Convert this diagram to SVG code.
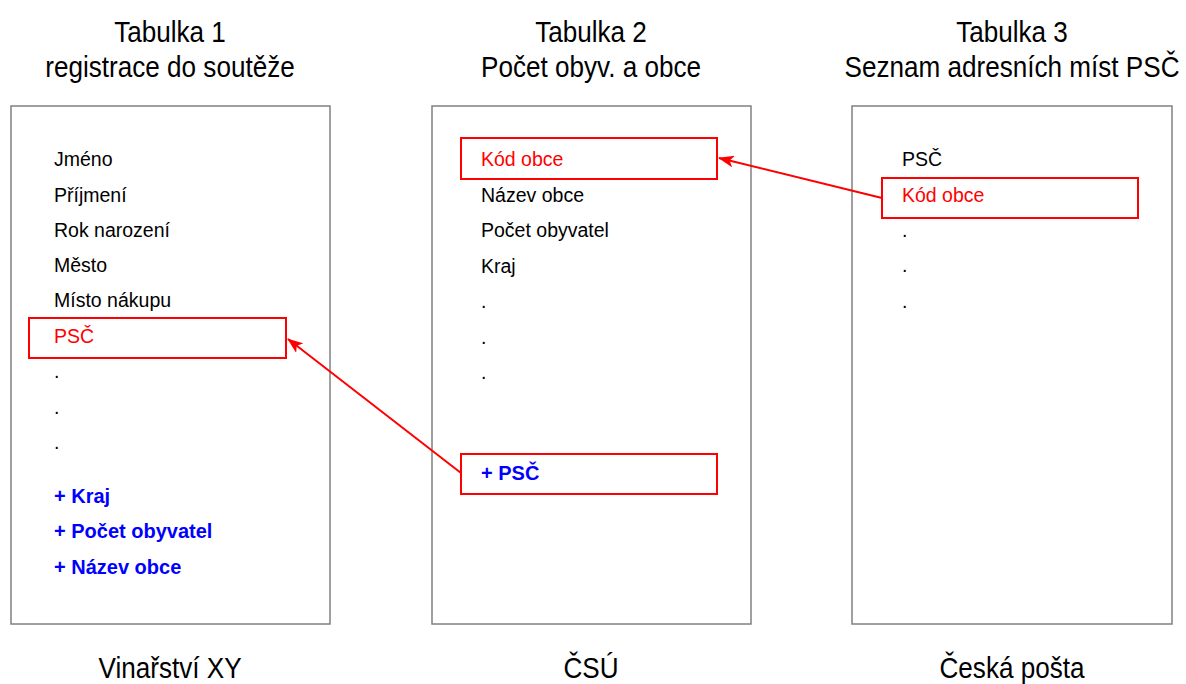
<svg xmlns="http://www.w3.org/2000/svg" width="1186" height="684" viewBox="0 0 1186 684">
<style>
.tbl{fill:#fff;stroke:#808080;stroke-width:1.5}
.hl{fill:none;stroke:#ff0000;stroke-width:2}
.title{font-family:"Liberation Sans",Arial,sans-serif;font-size:29px;fill:#000;text-anchor:middle}
.item{font-family:"Liberation Sans",Arial,sans-serif;font-size:19.5px;fill:#000}
.red{fill:#ff0000}
.blue{font-weight:bold;font-size:20px;fill:#0000ff}
.conn{fill:none;stroke:#ff0000;stroke-width:2}
</style>
<defs>
<marker id="arr" viewBox="0 0 16 12" refX="15" refY="6" markerWidth="16" markerHeight="12" markerUnits="userSpaceOnUse" orient="auto">
<path d="M0,0 L16,6 L0,12 L4,6 Z" fill="#ff0000"/>
</marker>
</defs>
<rect width="1186" height="684" fill="#fff"/>
<g id="table1">
<text class="title" transform="translate(170,42) scale(0.9,1)">Tabulka 1</text>
<text class="title" transform="translate(170,77) scale(0.9,1)">registrace do soutěže</text>
<rect class="tbl" x="11" y="106" width="319" height="518"/>
<text class="item" x="54" y="166">Jméno</text>
<text class="item" x="54" y="202">Příjmení</text>
<text class="item" x="54" y="237">Rok narození</text>
<text class="item" x="54" y="272">Město</text>
<text class="item" x="54" y="307">Místo nákupu</text>
<rect class="hl" x="29" y="318" width="257" height="40"/>
<text class="item red" x="54" y="343">PSČ</text>
<text class="item" x="54" y="378">.</text>
<text class="item" x="54" y="414">.</text>
<text class="item" x="54" y="449">.</text>
<text class="item blue" x="54" y="503">+ Kraj</text>
<text class="item blue" x="54" y="538">+ Počet obyvatel</text>
<text class="item blue" x="54" y="574">+ Název obce</text>
<text class="title" transform="translate(170,678) scale(0.9,1)">Vinařství XY</text>
</g>
<g id="table2">
<text class="title" transform="translate(591,42) scale(0.9,1)">Tabulka 2</text>
<text class="title" transform="translate(591,77) scale(0.9,1)">Počet obyv. a obce</text>
<rect class="tbl" x="432" y="106" width="319" height="518"/>
<rect class="hl" x="461" y="138" width="256" height="41"/>
<text class="item red" x="481" y="166">Kód obce</text>
<text class="item" x="481" y="202">Název obce</text>
<text class="item" x="481" y="237">Počet obyvatel</text>
<text class="item" x="481" y="273">Kraj</text>
<text class="item" x="481" y="308">.</text>
<text class="item" x="481" y="344">.</text>
<text class="item" x="481" y="379">.</text>
<rect class="hl" x="461" y="454" width="256" height="40"/>
<text class="item blue" x="481" y="480">+ PSČ</text>
<text class="title" transform="translate(591,678) scale(0.9,1)">ČSÚ</text>
</g>
<g id="table3">
<text class="title" transform="translate(1012,42) scale(0.9,1)">Tabulka 3</text>
<text class="title" transform="translate(1012,77) scale(0.9,1)">Seznam adresních míst PSČ</text>
<rect class="tbl" x="852" y="106" width="320" height="518"/>
<text class="item" x="902" y="166">PSČ</text>
<rect class="hl" x="882" y="178" width="256" height="40"/>
<text class="item red" x="902" y="202">Kód obce</text>
<text class="item" x="902" y="237">.</text>
<text class="item" x="902" y="272">.</text>
<text class="item" x="902" y="308">.</text>
<text class="title" transform="translate(1012,678) scale(0.9,1)">Česká pošta</text>
</g>
<g id="connectors">
<line class="conn" x1="882" y1="198" x2="719" y2="158" marker-end="url(#arr)"/>
<line class="conn" x1="461" y1="473" x2="288" y2="339" marker-end="url(#arr)"/>
</g>
</svg>
